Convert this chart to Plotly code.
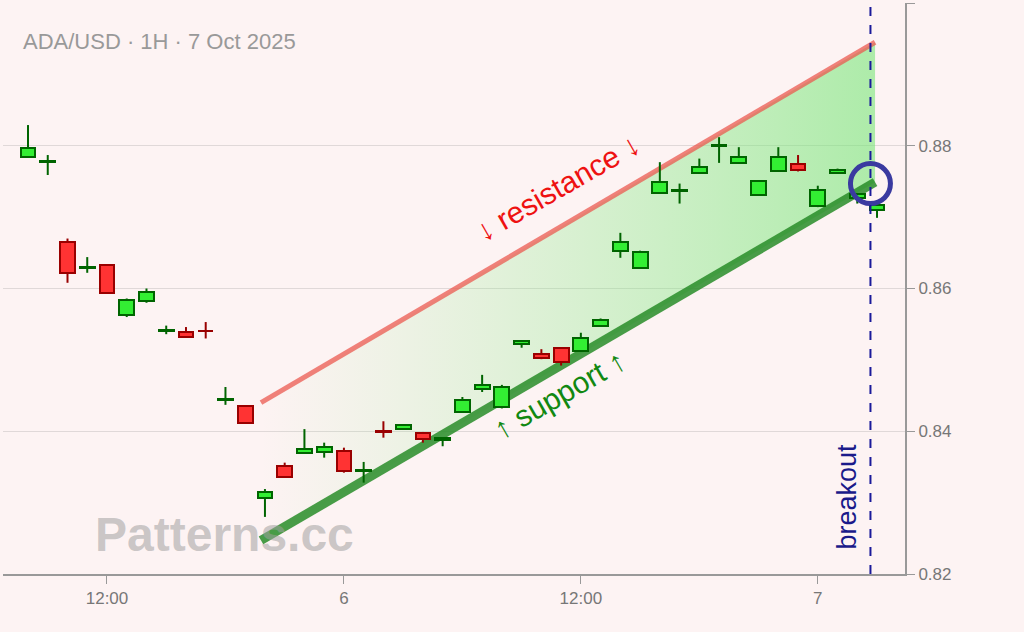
import pandas as pd
import plotly.graph_objects as go

times = pd.date_range("2025-10-05 08:00", periods=44, freq="h")

opens = [0.8784, 0.8777, 0.8665, 0.8629, 0.8633, 0.8563, 0.8583, 0.8541, 0.8539, 0.8541,
         0.8444, 0.8435, 0.8307, 0.8351, 0.8370, 0.8371, 0.8372, 0.8345, 0.8400, 0.8403,
         0.8398, 0.8388, 0.8427, 0.8459, 0.8434, 0.8522, 0.8508, 0.8517, 0.8513, 0.8548,
         0.8653, 0.8629, 0.8734, 0.8736, 0.8762, 0.8800, 0.8776, 0.8731, 0.8765, 0.8775,
         0.8716, 0.8762, 0.8727, 0.8710]
highs = [0.8829, 0.8787, 0.8670, 0.8644, 0.8633, 0.8586, 0.8600, 0.8548, 0.8546, 0.8553,
         0.8462, 0.8435, 0.8319, 0.8356, 0.8403, 0.8384, 0.8377, 0.8357, 0.8414, 0.8410,
         0.8399, 0.8390, 0.8448, 0.8479, 0.8465, 0.8527, 0.8515, 0.8517, 0.8538, 0.8558,
         0.8678, 0.8653, 0.8777, 0.8747, 0.8782, 0.8812, 0.8798, 0.8751, 0.8798, 0.8787,
         0.8744, 0.8768, 0.8733, 0.8717]
lows = [0.8783, 0.8759, 0.8608, 0.8622, 0.8594, 0.8560, 0.8580, 0.8536, 0.8532, 0.8530,
        0.8437, 0.8412, 0.8280, 0.8336, 0.8370, 0.8363, 0.8342, 0.8328, 0.8391, 0.8402,
        0.8384, 0.8379, 0.8427, 0.8455, 0.8432, 0.8517, 0.8501, 0.8492, 0.8511, 0.8547,
        0.8643, 0.8628, 0.8733, 0.8719, 0.8761, 0.8776, 0.8775, 0.8730, 0.8764, 0.8764,
        0.8714, 0.8761, 0.8719, 0.8699]
closes = [0.8797, 0.8778, 0.8622, 0.8630, 0.8594, 0.8584, 0.8595, 0.8542, 0.8532, 0.8540,
          0.8445, 0.8412, 0.8315, 0.8336, 0.8375, 0.8378, 0.8344, 0.8346, 0.8399, 0.8409,
          0.8389, 0.8390, 0.8444, 0.8465, 0.8462, 0.8527, 0.8503, 0.8497, 0.8531, 0.8556,
          0.8665, 0.8651, 0.8749, 0.8738, 0.8770, 0.8801, 0.8784, 0.8751, 0.8784, 0.8766,
          0.8738, 0.8766, 0.8733, 0.8717]

line_t = [pd.Timestamp("2025-10-05 19:48"), pd.Timestamp("2025-10-07 02:54")]
resistance = [0.8440, 0.8945]
support = [0.8247, 0.8749]
breakout_t = pd.Timestamp("2025-10-07 02:40")
breakout_p = 0.8747

x_range = [pd.Timestamp("2025-10-05 06:44"), pd.Timestamp("2025-10-07 04:25")]
y_range = [0.82, 0.90]

fig = go.Figure()

# channel fill and lines on the base axes
fig.add_trace(go.Scatter(
    x=line_t + line_t[::-1], y=resistance + support[::-1],
    fill="toself", mode="none", hoverinfo="skip",
    fillgradient=dict(type="horizontal",
                      colorscale=[[0, "rgba(144,238,144,0)"], [1, "rgba(120,230,120,0.6)"]]),
))
fig.add_trace(go.Scatter(x=line_t, y=resistance, mode="lines",
                         line=dict(color="rgba(235,90,80,0.75)", width=5), hoverinfo="skip"))
fig.add_trace(go.Scatter(x=line_t, y=support, mode="lines",
                         line=dict(color="rgba(40,140,40,0.85)", width=9), hoverinfo="skip"))

# candles on overlay axes so they sit above the channel
up = [c >= o for o, c in zip(opens, closes)]
for is_up, body, edge in [(True, "#33ee33", "#006400"), (False, "#ff3333", "#990000")]:
    idx = [i for i in range(len(times)) if up[i] == is_up]
    wx, wy = [], []
    for i in idx:
        top, bot = max(opens[i], closes[i]), min(opens[i], closes[i])
        wx += [times[i], times[i], None, times[i], times[i], None]
        wy += [highs[i], top, None, bot, lows[i], None]
    fig.add_trace(go.Scatter(x=wx, y=wy, mode="lines", line=dict(color=edge, width=2),
                             xaxis="x2", yaxis="y2", hoverinfo="skip"))
    fig.add_trace(go.Bar(
        x=[times[i] for i in idx],
        base=[min(opens[i], closes[i]) for i in idx],
        y=[max(abs(closes[i] - opens[i]), 0.00008) for i in idx],
        width=0.75 * 3600 * 1000,
        marker=dict(color=body, line=dict(color=edge, width=2)),
        xaxis="x2", yaxis="y2",
    ))

fig.add_trace(go.Scatter(x=[breakout_t], y=[breakout_p], mode="markers",
                         marker=dict(size=40, color="rgba(0,0,0,0)",
                                     line=dict(color="#3a3aa0", width=5)),
                         xaxis="x2", yaxis="y2", hoverinfo="skip"))

fig.add_shape(type="line", x0=breakout_t, x1=breakout_t, y0=0, y1=1, yref="paper",
              line=dict(color="#1a1a9a", width=2, dash="dash"))

fig.add_annotation(x=breakout_t, y=0.8232, text="breakout", textangle=-90, showarrow=False,
                   xanchor="right", yanchor="bottom", xshift=-6, font=dict(size=27, color="#1a1a8a"))
fig.add_annotation(x=pd.Timestamp("2025-10-06 10:50"), y=0.8742, text="↓ resistance ↓",
                   textangle=-30, showarrow=False, font=dict(size=30, color="#ee1111"))
fig.add_annotation(x=pd.Timestamp("2025-10-06 10:55"), y=0.8452, text="↑ support ↑",
                   textangle=-30, showarrow=False, font=dict(size=30, color="#118811"))
fig.add_annotation(x=0.02, y=0.933, xref="paper", yref="paper", xanchor="left", yanchor="middle",
                   text="ADA/USD · 1H · 7 Oct 2025", showarrow=False,
                   font=dict(size=22, color="#999999"))
fig.add_annotation(x=0.10, y=0.07, xref="paper", yref="paper", xanchor="left", yanchor="middle",
                   text="<b>Patterns.cc</b>", showarrow=False,
                   font=dict(size=48, color="rgba(160,160,160,0.55)"))

fig.update_layout(
    width=1024, height=632,
    margin=dict(l=3, r=119, t=3, b=58, autoexpand=False),
    paper_bgcolor="#fdf3f3", plot_bgcolor="rgba(0,0,0,0)",
    showlegend=False, bargap=0,
    font=dict(family="Liberation Sans, Arial", size=17, color="#777777"),
    xaxis=dict(showgrid=False, range=x_range,
               tickvals=[pd.Timestamp("2025-10-05 12:00"), pd.Timestamp("2025-10-06 00:00"),
                         pd.Timestamp("2025-10-06 12:00"), pd.Timestamp("2025-10-07 00:00")],
               ticktext=["12:00", "6", "12:00", "7"],
               ticks="outside", ticklen=8, tickcolor="#999999",
               showline=True, linecolor="#999999", linewidth=2),
    yaxis=dict(side="right", range=y_range, dtick=0.02, tickformat=".2f",
               gridcolor="#e0d8d8", ticks="outside", ticklen=8, tickcolor="#999999",
               showline=True, linecolor="#999999", linewidth=2, zeroline=False),
    xaxis2=dict(overlaying="x", range=x_range, visible=False),
    yaxis2=dict(overlaying="y", range=y_range, visible=False),
)

fig.write_html("out.html", config={"displayModeBar": False},
               post_script="document.body.style.margin='0';")
